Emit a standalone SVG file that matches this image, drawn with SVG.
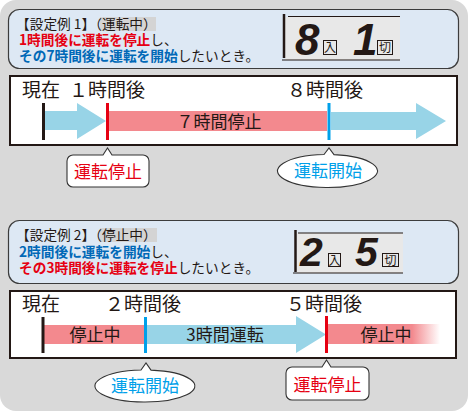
<svg xmlns="http://www.w3.org/2000/svg" width="468" height="411" viewBox="0 0 468 411">
<defs>
<style>
.jp{font-family:"Noto Sans CJK JP","Noto Sans",sans-serif;}
.panel{fill:#dde8f4;stroke:#3c3c3c;stroke-width:1.2;}
.tl{fill:#fff;stroke:#231815;stroke-width:2;}
.hl{fill:#d4d4d4;}
.desc{font-size:13.7px;fill:#231815;}
.red{fill:#e60012;font-weight:bold;}
.blue{fill:#0068b7;font-weight:bold;}
.lbl{font-size:19px;fill:#231815;}
.bar{font-size:17px;fill:#231815;}
.co{fill:#fff;stroke:#333;stroke-width:1.1;}
.cot{font-size:17px;text-anchor:middle;}
.lcdbg{fill:#e8e8e8;}
.lcdln{stroke:#231815;fill:none;}
.dig{font-family:"Liberation Sans",Arial,sans-serif;font-weight:bold;font-style:italic;fill:#231815;}
.kbox{fill:none;stroke:#231815;stroke-width:1;}
.kt{font-size:12px;fill:#231815;text-anchor:middle;}
.pink{fill:#f3898e;}
.sky{fill:#98d4e7;}
</style>
<linearGradient id="fade" x1="0" y1="0" x2="1" y2="0">
<stop offset="0" stop-color="#f3898e"/>
<stop offset="0.75" stop-color="#f3898e"/>
<stop offset="1" stop-color="#f3898e" stop-opacity="0"/>
</linearGradient>
</defs>

<rect x="0" y="0" width="468" height="411" rx="16" fill="#d9d9d9"/>

<!-- Example 1 description panel -->
<g id="panel1">
<rect class="panel" x="8.5" y="9.5" width="450" height="59" rx="11"/>
<rect class="hl" x="100" y="17" width="56" height="14"/>
<text class="jp desc" x="16" y="29">【設定例 1】（運転中）</text>
<text class="jp desc" x="19" y="44.5"><tspan class="red">1時間後に運転を停止</tspan>し、</text>
<text class="jp desc" x="19" y="60.5"><tspan class="blue">その7時間後に運転を開始</tspan>したいとき。</text>
</g>

<g id="lcd1">
<rect class="lcdbg" x="285" y="17" width="115" height="43"/>
<line class="lcdln" x1="284" y1="14" x2="284" y2="58" stroke-width="2.5"/>
<line class="lcdln" x1="288" y1="16.5" x2="400" y2="16.5" stroke-width="1.2"/>
<line class="lcdln" x1="282" y1="60" x2="400" y2="60" stroke-width="1.2"/>
<text class="dig" x="295" y="55" font-size="44">8</text>
<rect class="kbox" x="323.5" y="40.5" width="13" height="14"/>
<text class="jp kt" x="330" y="52">入</text>
<text class="dig" x="353" y="55" font-size="44">1</text>
<rect class="kbox" x="377.5" y="40.5" width="15" height="14"/>
<text class="jp kt" x="385" y="52">切</text>
</g>

<!-- Timeline 1 -->
<g id="timeline1">
<rect class="tl" x="10" y="76" width="447" height="69"/>
<text class="jp lbl" x="22" y="97">現在</text>
<text class="jp lbl" x="69" y="97">１時間後</text>
<text class="jp lbl" x="287" y="97">８時間後</text>
<polygon class="sky" points="45,111 77,111 77,103 106,121 77,139 77,130 45,130"/>
<rect class="pink" x="109" y="111" width="218" height="20"/>
<text class="jp bar" x="219" y="128" text-anchor="middle">７時間停止</text>
<polygon class="sky" points="331,112 416,112 416,103 446,121 416,139 416,130 331,130"/>
<line x1="43.5" y1="103" x2="43.5" y2="140" stroke="#231815" stroke-width="3"/>
<line x1="107.5" y1="103" x2="107.5" y2="140" stroke="#e60012" stroke-width="3"/>
<line x1="329" y1="103" x2="329" y2="140" stroke="#00a0e9" stroke-width="3"/>
</g>

<g id="callout-stop1">
<path class="co" d="M73,155 H103 L107.5,148 L112,155 H143 A6,6 0 0 1 149,161 V181 A6,6 0 0 1 143,187 H73 A6,6 0 0 1 67,181 V161 A6,6 0 0 1 73,155 Z"/>
<text class="jp cot" x="108" y="178" fill="#e60012">運転停止</text>
</g>

<g id="callout-start1">
<path class="co" d="M324,154.54 L329,148 L334,154.64 A50,16.5 0 1 1 324,154.54 Z"/>
<text class="jp cot" x="328" y="177" fill="#00a0e9">運転開始</text>
</g>

<!-- Example 2 description panel -->
<g id="panel2">
<rect class="panel" x="8.5" y="220.5" width="450" height="63" rx="11"/>
<rect class="hl" x="100" y="228" width="57" height="14"/>
<text class="jp desc" x="16" y="240">【設定例 2】（停止中）</text>
<text class="jp desc" x="19" y="256.5"><tspan class="blue">2時間後に運転を開始</tspan>し、</text>
<text class="jp desc" x="19" y="272.5"><tspan class="red">その3時間後に運転を停止</tspan>したいとき。</text>
</g>

<g id="lcd2">
<rect class="lcdbg" x="297" y="233" width="106" height="40"/>
<line class="lcdln" x1="295.5" y1="230" x2="295.5" y2="272" stroke-width="2.5"/>
<line class="lcdln" x1="298" y1="233" x2="403" y2="233" stroke-width="1.2"/>
<line class="lcdln" x1="293" y1="273" x2="403" y2="273" stroke-width="1.2"/>
<text class="dig" x="300" y="266" font-size="41">2</text>
<rect class="kbox" x="328.5" y="253.5" width="12" height="13"/>
<text class="jp kt" x="334.5" y="264.5" font-size="11">入</text>
<text class="dig" x="355" y="266" font-size="41">5</text>
<rect class="kbox" x="382.5" y="253.5" width="16" height="13"/>
<text class="jp kt" x="390.5" y="264.5" font-size="11">切</text>
</g>

<!-- Timeline 2 -->
<g id="timeline2">
<rect class="tl" x="10" y="291" width="446" height="67"/>
<text class="jp lbl" x="22" y="311">現在</text>
<text class="jp lbl" x="105" y="311">２時間後</text>
<text class="jp lbl" x="286" y="311">５時間後</text>
<rect class="pink" x="44" y="325" width="101" height="19"/>
<text class="jp bar" x="95" y="341" text-anchor="middle">停止中</text>
<polygon class="sky" points="147,325 296,325 296,316 326,334.5 296,353 296,344 147,344"/>
<text class="jp bar" x="225" y="341" text-anchor="middle">3時間運転</text>
<rect x="328" y="324" width="112" height="20" fill="url(#fade)"/>
<text class="jp bar" x="386" y="341" text-anchor="middle">停止中</text>
<line x1="43" y1="317" x2="43" y2="353" stroke="#231815" stroke-width="3"/>
<line x1="145.5" y1="317" x2="145.5" y2="353" stroke="#00a0e9" stroke-width="3"/>
<line x1="326.5" y1="316" x2="326.5" y2="353" stroke="#e60012" stroke-width="3"/>
</g>

<g id="callout-start2">
<path class="co" d="M141,370.05 L146,363 L151,370.12 A50,16 0 1 1 141,370.05 Z"/>
<text class="jp cot" x="145" y="392" fill="#00a0e9">運転開始</text>
</g>

<g id="callout-stop2">
<path class="co" d="M292,367 H322 L326.5,360 L331,367 H363 A6,6 0 0 1 369,373 V394 A6,6 0 0 1 363,400 H292 A6,6 0 0 1 286,394 V373 A6,6 0 0 1 292,367 Z"/>
<text class="jp cot" x="327.5" y="391" fill="#e60012">運転停止</text>
</g>
</svg>
